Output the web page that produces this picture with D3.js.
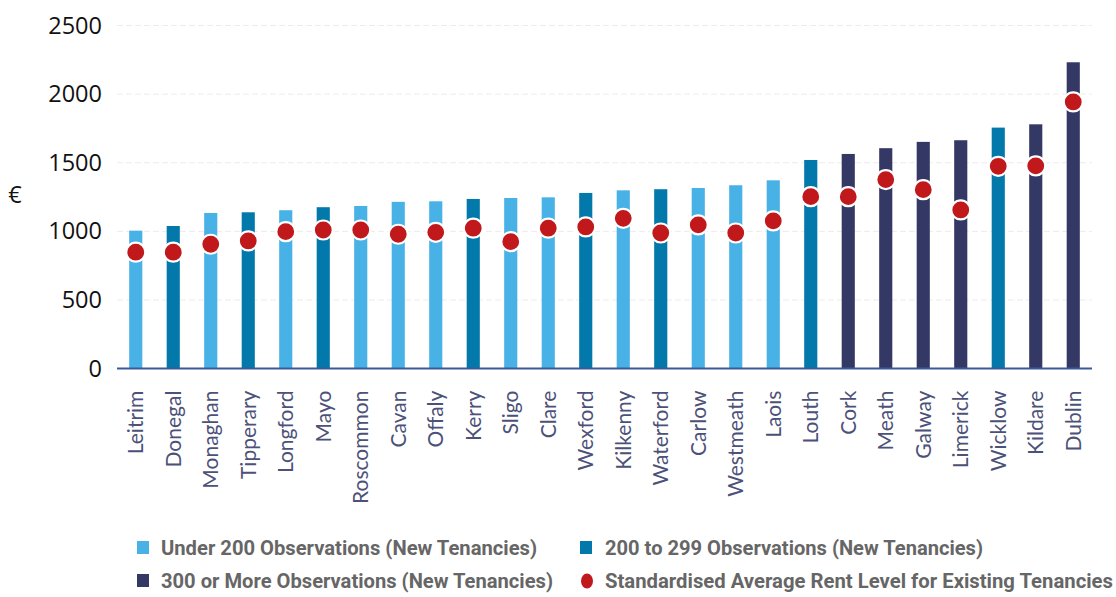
<!DOCTYPE html>
<html>
<head>
<meta charset="utf-8">
<script src="https://cdn.jsdelivr.net/npm/d3@7"></script>
<style>
  html, body { margin: 0; padding: 0; background: #fff; }
  svg { display: block; }
</style>
</head>
<body>
<svg id="chart" width="1116" height="597"></svg>
<script>
// Counties, ordered by average new-tenancy rent
const counties = ["Leitrim","Donegal","Monaghan","Tipperary","Longford","Mayo","Roscommon","Cavan","Offaly","Kerry","Sligo","Clare","Wexford","Kilkenny","Waterford","Carlow","Westmeath","Laois","Louth","Cork","Meath","Galway","Limerick","Wicklow","Kildare","Dublin"];

// Standardised average rent, new tenancies (€)
const newRent = [1005,1039,1134,1139,1154,1176,1185,1215,1219,1236,1243,1248,1280,1299,1307,1316,1336,1372,1520,1564,1606,1652,1664,1756,1780,2232];

// Standardised average rent, existing tenancies (€)
const existingRent = [848,848,906,930,998,1010,1010,979,993,1023,925,1023,1032,1095,988,1047,988,1076,1253,1253,1377,1304,1156,1474,1477,1943];

// Observation group for each county's new-tenancy sample
const obsGroup = ["u200","m299","u200","m299","u200","m299","u200","u200","u200","m299","u200","u200","m299","u200","m299","u200","u200","u200","m299","o300","o300","o300","o300","m299","o300","o300"];

const yTicks = [0,500,1000,1500,2000,2500];

const legendItems = [
  {key:"u200", label:"Under 200 Observations (New Tenancies)", shape:"square"},
  {key:"m299", label:"200 to 299 Observations (New Tenancies)", shape:"square"},
  {key:"o300", label:"300 or More Observations (New Tenancies)", shape:"square"},
  {key:"existing", label:"Standardised Average Rent Level for Existing Tenancies", shape:"dot"}
];

const colors = {u200:"#48b1e6", m299:"#0278ab", o300:"#333865", existing:"#c0181b"};

(function draw() {
  const svg = d3.select("#chart");
  const plotLeft = 117, plotRight = 1092, plotTop = 25.5, plotBottom = 368.6;

  const x = d3.scaleBand().domain(counties).range([plotLeft, plotRight]).paddingInner(0.65).paddingOuter(0.325);
  const y = d3.scaleLinear().domain([0, 2500]).range([plotBottom, plotTop]);

  // gridlines
  svg.append("g")
    .selectAll("line")
    .data(yTicks.filter(d => d > 0))
    .join("line")
    .attr("x1", plotLeft).attr("x2", plotRight)
    .attr("y1", d => y(d)).attr("y2", d => y(d))
    .attr("stroke", "#ececec").attr("stroke-width", 1)
    .attr("stroke-dasharray", "6,3");

  // y axis labels
  const yAxis = svg.append("g")
    .attr("transform", `translate(${plotLeft},0)`)
    .call(d3.axisLeft(y).tickValues(yTicks).tickSize(0).tickPadding(15).tickFormat(d3.format("d")));
  yAxis.select(".domain").remove();
  yAxis.selectAll("text")
    .attr("font-family", "'Open Sans', sans-serif")
    .attr("font-size", 23.5)
    .attr("fill", "#111");

  svg.append("text")
    .attr("x", 15).attr("y", 197)
    .attr("text-anchor", "middle").attr("dominant-baseline", "middle")
    .attr("font-family", "'Open Sans', sans-serif").attr("font-size", 23.5)
    .attr("fill", "#111")
    .text("€");

  // bars
  svg.append("g")
    .selectAll("rect")
    .data(counties)
    .join("rect")
    .attr("x", d => x(d))
    .attr("width", x.bandwidth())
    .attr("y", (d, i) => y(newRent[i]))
    .attr("height", (d, i) => y(0) - y(newRent[i]))
    .attr("fill", (d, i) => colors[obsGroup[i]]);

  // baseline
  svg.append("line")
    .attr("x1", plotLeft).attr("x2", plotRight)
    .attr("y1", y(0)).attr("y2", y(0))
    .attr("stroke", "#3d5a98").attr("stroke-width", 2);

  // x labels
  const xAxis = svg.append("g")
    .attr("transform", `translate(0,${y(0)})`)
    .call(d3.axisBottom(x).tickSize(0).tickPadding(0));
  xAxis.select(".domain").remove();
  xAxis.selectAll("text")
    .attr("transform", "rotate(-90)")
    .attr("x", -22).attr("y", 0).attr("dy", "0.36em")
    .attr("text-anchor", "end")
    .attr("font-family", "Lato, sans-serif")
    .attr("font-size", 21)
    .attr("fill", "#4c5179");

  // existing tenancy dots
  svg.append("g")
    .selectAll("circle")
    .data(counties)
    .join("circle")
    .attr("cx", d => x(d) + x.bandwidth() / 2)
    .attr("cy", (d, i) => y(existingRent[i]))
    .attr("r", 9.5)
    .attr("fill", colors.existing)
    .attr("stroke", "#fff").attr("stroke-width", 2.2);

  // legend
  const legendPos = [
    {sx:137, tx:161, ty:548, w:376},
    {sx:580, tx:605, ty:548, w:378},
    {sx:137, tx:161, ty:581, w:392},
    {sx:587, tx:605, ty:581, w:508}
  ];
  const lg = svg.append("g");
  legendItems.forEach((it, i) => {
    const p = legendPos[i];
    if (it.shape === "square") {
      lg.append("rect").attr("x", p.sx).attr("y", p.ty - 7).attr("width", 12).attr("height", 13)
        .attr("fill", colors[it.key]);
    } else {
      lg.append("ellipse").attr("cx", p.sx).attr("cy", p.ty).attr("rx", 6).attr("ry", 7.5)
        .attr("fill", colors[it.key]);
    }
    lg.append("text")
      .attr("x", p.tx).attr("y", p.ty).attr("dy", "0.36em")
      .attr("font-family", "Roboto, sans-serif").attr("font-weight", "bold")
      .attr("font-size", 19.5).attr("fill", "#666")
      .attr("textLength", p.w).attr("lengthAdjust", "spacingAndGlyphs")
      .text(it.label);
  });
})();
</script>
</body>
</html>
